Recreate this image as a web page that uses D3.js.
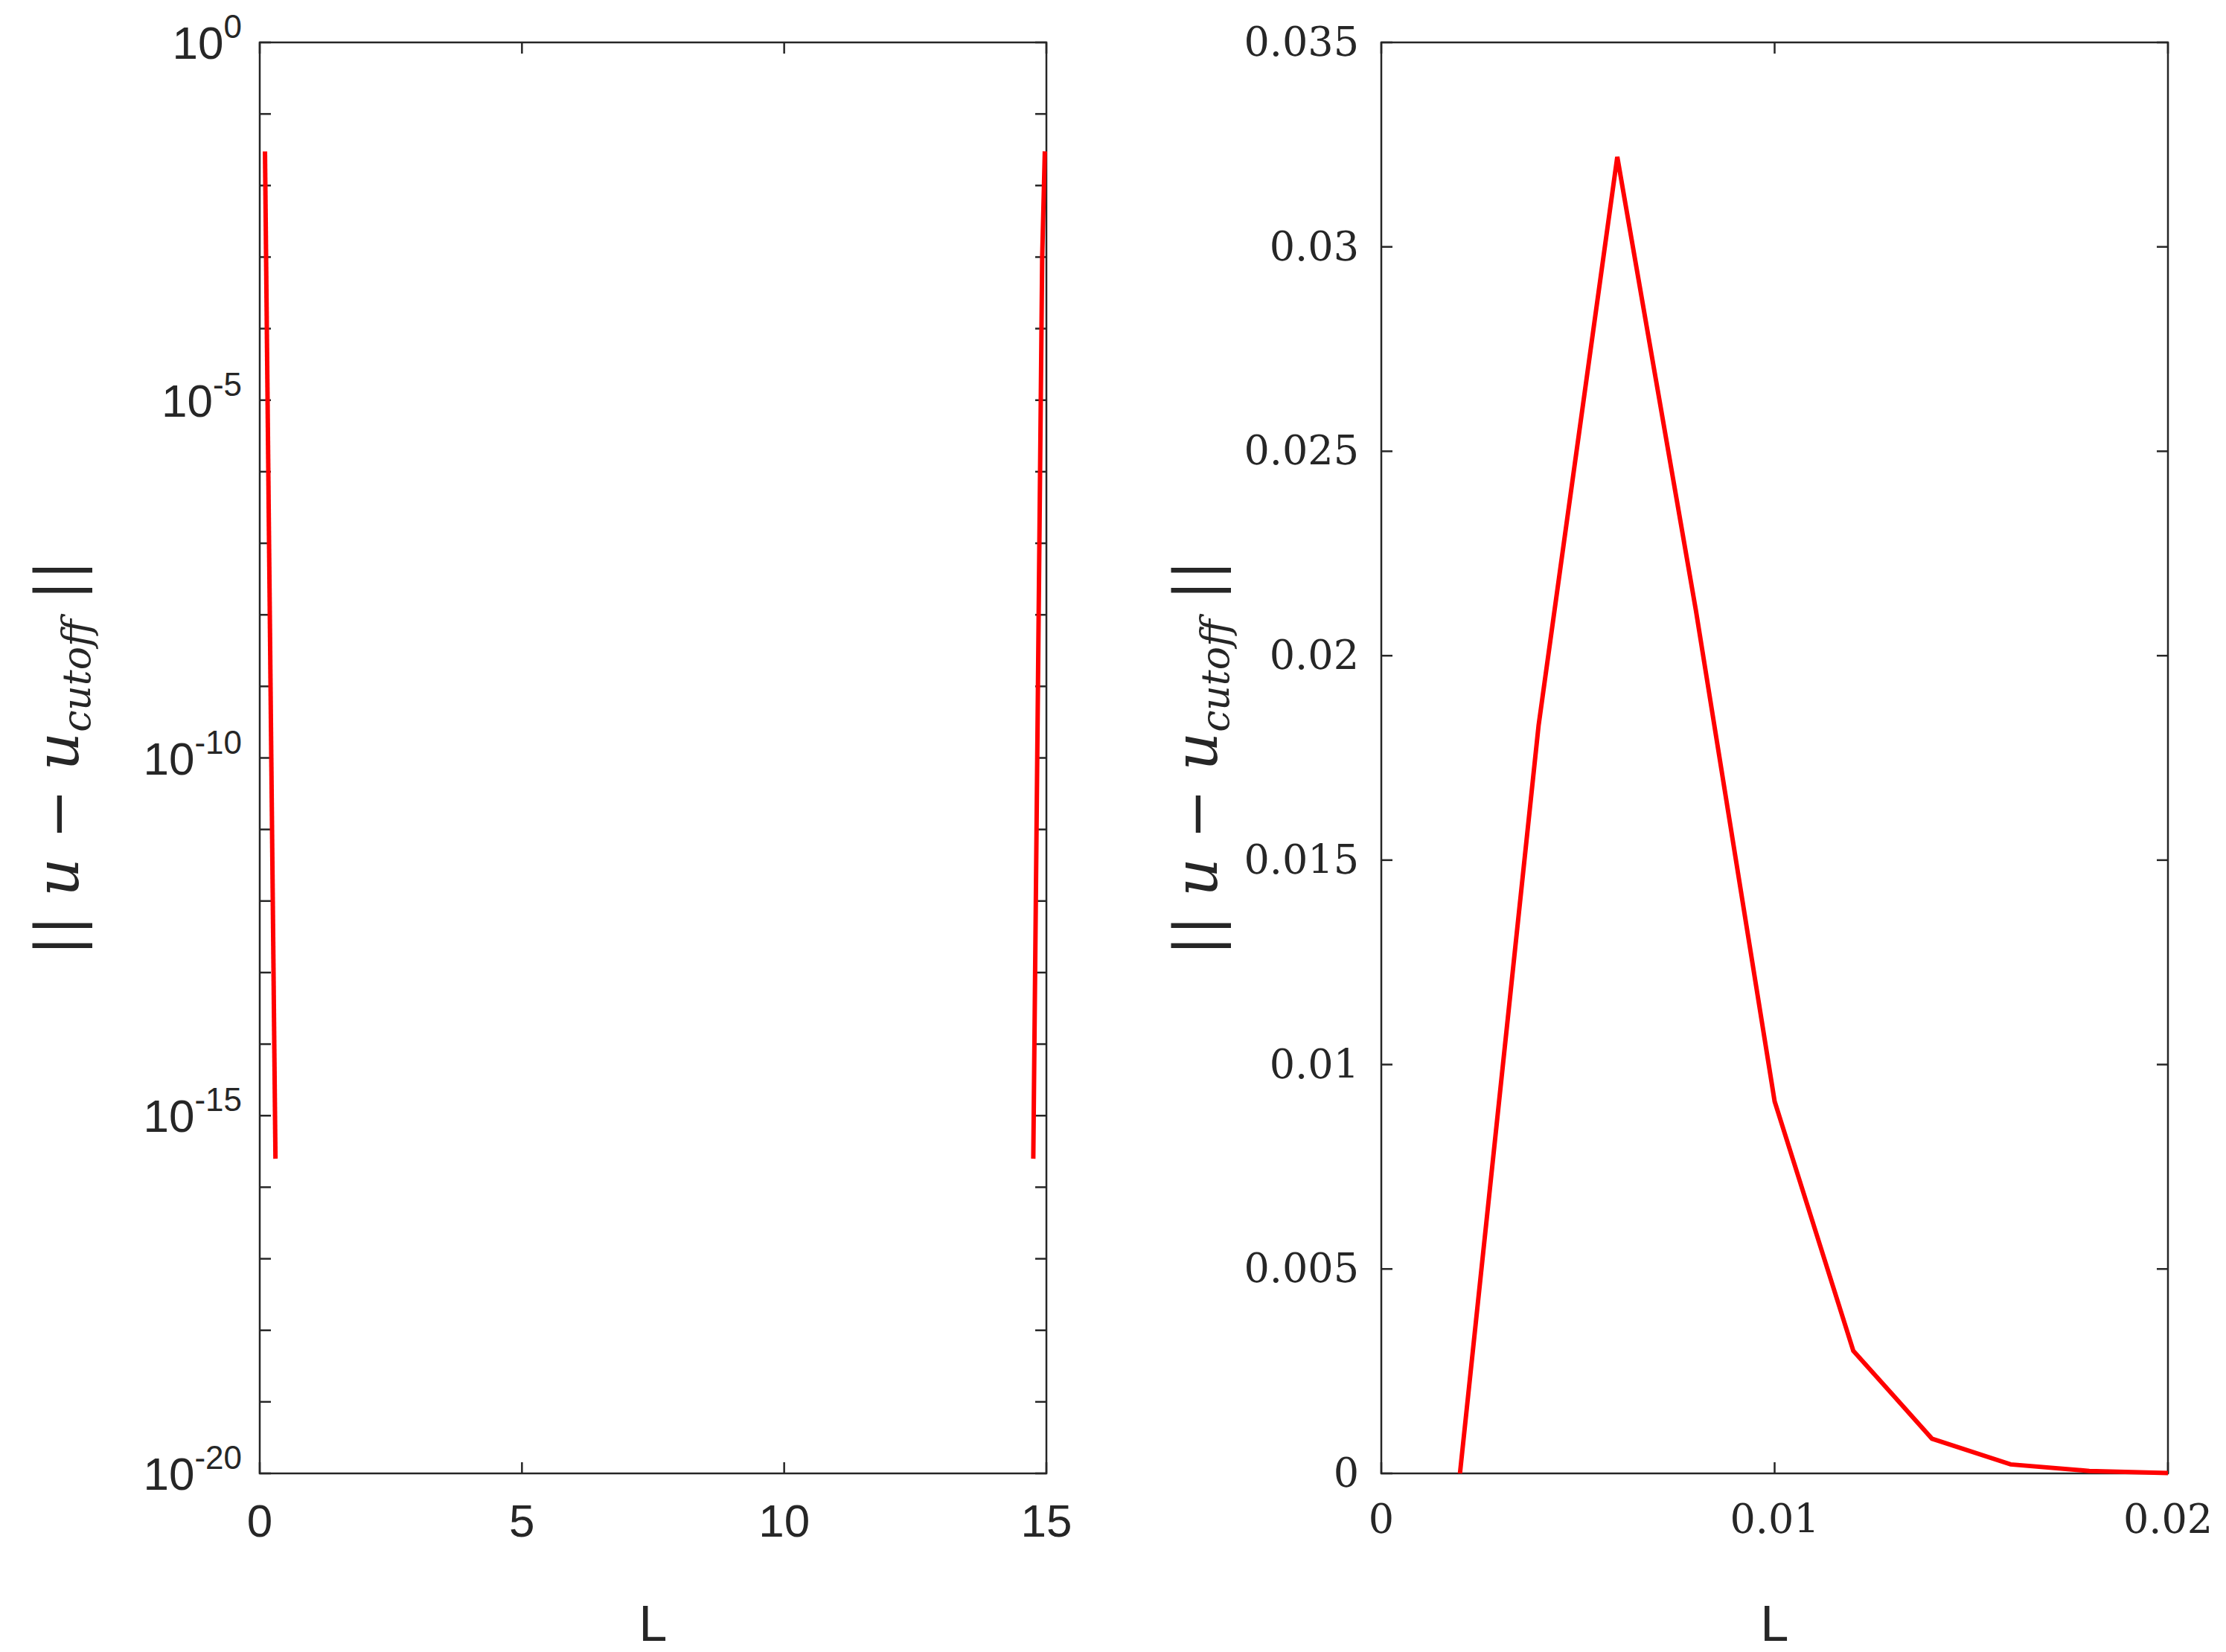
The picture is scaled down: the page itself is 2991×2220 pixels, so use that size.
<!DOCTYPE html>
<html><head><meta charset="utf-8">
<script src="https://cdn.jsdelivr.net/npm/d3@7"></script>
<style>body{margin:0;background:#fff}</style></head>
<body><svg id="c" width="2991" height="2220"></svg>
<script>
// Left panel (log scale)
const leftSeriesA_L = [0.1, 0.3];
const leftSeriesA_err = [0.03, 2.5e-16];
const leftSeriesB_L = [14.75, 14.92, 14.97];
const leftSeriesB_err = [2.5e-16, 1e-3, 0.03];
const leftXTicks = [0, 5, 10, 15];
const leftYExponents = [0, -5, -10, -15, -20];
// Right panel (linear)
const rightL = [0.002, 0.004, 0.006, 0.008, 0.010, 0.012, 0.014, 0.016, 0.018, 0.020];
const rightErr = [0.0, 0.0183, 0.0322, 0.0211, 0.0091, 0.0030, 0.00085, 0.00022, 0.00006, 0.00001];
const rightXTicks = [0, 0.01, 0.02];
const rightYTicks = [0, 0.005, 0.01, 0.015, 0.02, 0.025, 0.03, 0.035];

const svg = d3.select("#c");
const yTop = 57, yBot = 1980, tl = 15;
const col = "#262626";
const sans = "Liberation Sans, Arial, sans-serif";
const serif = "DejaVu Serif, Liberation Serif, serif";

function frame(g, x0, x1) {
  g.append("rect").attr("x", x0).attr("y", yTop).attr("width", x1 - x0).attr("height", yBot - yTop)
    .attr("fill", "none").attr("stroke", col).attr("stroke-width", 2.5);
}
function ylabel(g, x) {
  const t = g.append("text").attr("transform", `translate(${x},${(yTop+yBot)/2}) rotate(-90)`)
    .attr("text-anchor", "middle").attr("font-family", serif).attr("font-size", 80).attr("fill", col);
  t.append("tspan").text("|| ");
  t.append("tspan").attr("font-style", "italic").text("u");
  t.append("tspan").text(" − ");
  t.append("tspan").attr("font-style", "italic").text("u");
  t.append("tspan").attr("font-style", "italic").attr("font-size", 52).attr("dy", 16).text("cutoff");
  t.append("tspan").attr("dy", -16).text(" ||");
}

// LEFT
{
  const x0 = 349, x1 = 1406;
  const x = d3.scaleLinear().domain([0, 15]).range([x0, x1]);
  const y = d3.scaleLog().domain([1e-20, 1]).range([yBot, yTop]);
  const g = svg.append("g");
  frame(g, x0, x1);
  for (let e = -20; e <= 0; e++) {
    const yy = y(Math.pow(10, e));
    g.append("line").attr("x1", x0).attr("x2", x0 + tl).attr("y1", yy).attr("y2", yy).attr("stroke", col).attr("stroke-width", 2.5);
    g.append("line").attr("x1", x1).attr("x2", x1 - tl).attr("y1", yy).attr("y2", yy).attr("stroke", col).attr("stroke-width", 2.5);
  }
  leftYExponents.forEach(e => {
    const t = g.append("text").attr("x", x0 - 24).attr("y", y(Math.pow(10, e)) + 22).attr("text-anchor", "end")
      .attr("font-family", sans).attr("font-size", 62).attr("fill", col);
    t.append("tspan").text("10");
    t.append("tspan").attr("dy", -28).attr("font-size", 44).text(e);
  });
  leftXTicks.forEach(v => {
    g.append("line").attr("x1", x(v)).attr("x2", x(v)).attr("y1", yBot).attr("y2", yBot - tl).attr("stroke", col).attr("stroke-width", 2.5);
    g.append("line").attr("x1", x(v)).attr("x2", x(v)).attr("y1", yTop).attr("y2", yTop + tl).attr("stroke", col).attr("stroke-width", 2.5);
    g.append("text").attr("x", x(v)).attr("y", yBot + 85).attr("text-anchor", "middle")
      .attr("font-family", sans).attr("font-size", 62).attr("fill", col).text(v);
  });
  g.append("text").attr("x", (x0 + x1) / 2).attr("y", 2205).attr("text-anchor", "middle")
    .attr("font-family", sans).attr("font-size", 68).attr("fill", col).text("L");
  ylabel(g, 105);
  const line = d3.line().x(d => x(d[0])).y(d => y(d[1]));
  [[leftSeriesA_L, leftSeriesA_err], [leftSeriesB_L, leftSeriesB_err]].forEach(([a, b]) => {
    g.append("path").attr("d", line(a.map((v, i) => [v, b[i]]))).attr("fill", "none").attr("stroke", "#ff0000").attr("stroke-width", 6);
  });
}
// RIGHT
{
  const x0 = 1856, x1 = 2913;
  const x = d3.scaleLinear().domain([0, 0.02]).range([x0, x1]);
  const y = d3.scaleLinear().domain([0, 0.035]).range([yBot, yTop]);
  const g = svg.append("g");
  frame(g, x0, x1);
  rightYTicks.forEach(v => {
    g.append("line").attr("x1", x0).attr("x2", x0 + tl).attr("y1", y(v)).attr("y2", y(v)).attr("stroke", col).attr("stroke-width", 2.5);
    g.append("line").attr("x1", x1).attr("x2", x1 - tl).attr("y1", y(v)).attr("y2", y(v)).attr("stroke", col).attr("stroke-width", 2.5);
    g.append("text").attr("x", x0 - 30).attr("y", y(v) + 18).attr("text-anchor", "end")
      .attr("font-family", serif).attr("font-size", 54).attr("fill", col).text(v);
  });
  rightXTicks.forEach(v => {
    g.append("line").attr("x1", x(v)).attr("x2", x(v)).attr("y1", yBot).attr("y2", yBot - tl).attr("stroke", col).attr("stroke-width", 2.5);
    g.append("line").attr("x1", x(v)).attr("x2", x(v)).attr("y1", yTop).attr("y2", yTop + tl).attr("stroke", col).attr("stroke-width", 2.5);
    g.append("text").attr("x", x(v)).attr("y", yBot + 80).attr("text-anchor", "middle")
      .attr("font-family", serif).attr("font-size", 54).attr("fill", col).text(v);
  });
  g.append("text").attr("x", (x0 + x1) / 2).attr("y", 2205).attr("text-anchor", "middle")
    .attr("font-family", sans).attr("font-size", 68).attr("fill", col).text("L");
  ylabel(g, 1635);
  const line = d3.line().x(d => x(d[0])).y(d => y(d[1]));
  g.append("path").attr("d", line(rightL.map((v, i) => [v, rightErr[i]]))).attr("fill", "none").attr("stroke", "#ff0000").attr("stroke-width", 6);
}
</script></body></html>
